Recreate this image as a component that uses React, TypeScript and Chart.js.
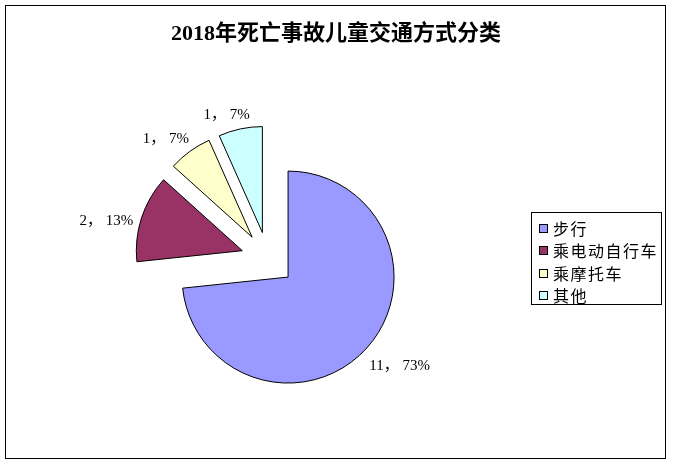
import { useEffect, useRef } from "react";
import { Chart, registerables } from "chart.js";

Chart.register(...registerables);

const TITLE = "2018年死亡事故儿童交通方式分类";
const categories = ["步行", "乘电动自行车", "乘摩托车", "其他"];
const counts = [11, 2, 1, 1];
const percentLabels = ["73%", "13%", "7%", "7%"];
const colors = ["#9999FF", "#993366", "#FFFFCC", "#CCFFFF"];

const EXPLODE = 27;
const RADIUS = 106;
const LABEL_FONT = "15px 'Liberation Serif', 'Noto Sans CJK SC', serif";
const LEGEND_FONT = "16px 'Noto Sans CJK SC', sans-serif";
const TITLE_FONT = "bold 22px 'Liberation Serif', 'Noto Sans CJK SC', serif";

const explodePlugin = {
  id: "explodeSlices",
  afterDatasetUpdate(chart: any, args: any) {
    const meta = chart.getDatasetMeta(args.index);
    meta.data.forEach((el: any) => {
      const mid = (el.startAngle + el.endAngle) / 2;
      el.x += Math.cos(mid) * EXPLODE;
      el.y += Math.sin(mid) * EXPLODE;
    });
  },
};

const decorPlugin = {
  id: "decor",
  beforeDraw(chart: any) {
    const ctx = chart.ctx as CanvasRenderingContext2D;
    ctx.save();
    ctx.fillStyle = "#ffffff";
    ctx.fillRect(0, 0, chart.width, chart.height);
    ctx.strokeStyle = "#000000";
    ctx.lineWidth = 1;
    ctx.strokeRect(5.5, 5.5, 660, 453);
    ctx.restore();
  },
  afterDraw(chart: any) {
    const ctx = chart.ctx as CanvasRenderingContext2D;
    ctx.save();
    // title
    ctx.fillStyle = "#000";
    ctx.font = TITLE_FONT;
    ctx.textAlign = "center";
    ctx.textBaseline = "middle";
    ctx.fillText(TITLE, 336, 34);

    // data labels
    const meta = chart.getDatasetMeta(0);
    ctx.font = LABEL_FONT;
    meta.data.forEach((el: any, i: number) => {
      const text = `${counts[i]}， ${percentLabels[i]}`;
      const w = ctx.measureText(text).width;
      const h = 15;
      const mid = (el.startAngle + el.endAngle) / 2 - (4.5 * Math.PI) / 180;
      const dx = Math.cos(mid);
      const dy = Math.sin(mid);
      const dist = el.outerRadius + 6 + Math.abs(dx) * w / 2 + Math.abs(dy) * h / 2;
      ctx.fillText(text, el.x + dx * dist, el.y + dy * dist + 3);
    });

    // legend
    const lx = 531.5, ly = 212.5, lw = 130, lh = 92;
    ctx.fillStyle = "#fff";
    ctx.fillRect(lx, ly, lw, lh);
    ctx.strokeStyle = "#000";
    ctx.lineWidth = 1;
    ctx.strokeRect(lx, ly, lw, lh);
    ctx.font = LEGEND_FONT;
    (ctx as any).letterSpacing = "1.5px";
    ctx.textAlign = "left";
    ctx.textBaseline = "middle";
    categories.forEach((c, i) => {
      const cy = 227.5 + i * 22.5;
      ctx.fillStyle = colors[i];
      ctx.fillRect(539.5, Math.round(cy - 4) + 0.5, 8, 8);
      ctx.strokeStyle = "#000";
      ctx.strokeRect(539.5, Math.round(cy - 4) + 0.5, 8, 8);
      ctx.fillStyle = "#000";
      ctx.fillText(c, 553, cy + 1);
    });
    ctx.restore();
  },
};

export default function App() {
  const ref = useRef<HTMLCanvasElement | null>(null);
  useEffect(() => {
    document.body.style.margin = "0";
    if (!ref.current) return;
    const chart = new Chart(ref.current, {
      type: "pie",
      data: {
        labels: categories,
        datasets: [
          {
            data: counts,
            backgroundColor: colors,
            borderColor: "#000000",
            borderWidth: 1,
          },
        ],
      },
      options: {
        responsive: false,
        animation: false,
        radius: RADIUS,
        rotation: 0,
        layout: { padding: { left: 10, right: 147, top: 80, bottom: 26 } },
        plugins: {
          legend: { display: false },
          tooltip: { enabled: false },
          title: { display: false },
        },
      } as any,
      plugins: [explodePlugin, decorPlugin],
    });
    return () => chart.destroy();
  }, []);
  return (
    <div style={{ width: 673, height: 464 }}>
      <canvas ref={ref} width={673} height={464} style={{ display: "block" }} />
    </div>
  );
}
